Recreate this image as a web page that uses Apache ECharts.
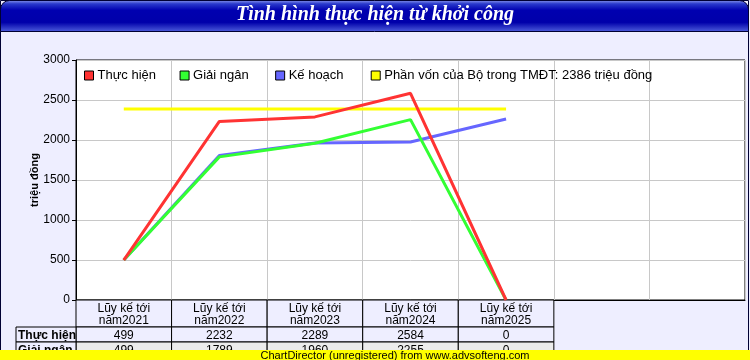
<!DOCTYPE html>
<html><head><meta charset="utf-8">
<script src="https://cdn.jsdelivr.net/npm/echarts@6/dist/echarts.min.js"></script>
<style>html,body{margin:0;padding:0;background:#eeeeff}#c{width:750px;height:360px}</style>
</head><body><div id="c"></div>
<script>
const titleText = 'Tình hình thực hiện từ khởi công';
const categories = ['Lũy kế tới\nnăm2021','Lũy kế tới\nnăm2022','Lũy kế tới\nnăm2023','Lũy kế tới\nnăm2024','Lũy kế tới\nnăm2025'];
const emptySlots = ['', ''];
const thucHien = [499, 2232, 2289, 2584, 0];
const giaiNgan = [499, 1789, 1960, 2255, 0];
const keHoach = [499, 1805, 1962, 1975, 2262];
const phanVon = [2386, 2386, 2386, 2386, 2386];
const seriesNames = ['Thực hiện', 'Giải ngân', 'Kế hoạch', 'Phần vốn của Bộ trong TMĐT: 2386 triệu đồng'];
const seriesColors = ['#ff3333', '#33ff33', '#6666ff', '#ffff00'];
const tableRows = [['Thực hiện', thucHien], ['Giải ngân', giaiNgan]];
const yTicks = {min: 0, max: 3000, interval: 500};
const yName = 'triệu đồng';
const footer = 'ChartDirector (unregistered) from www.advsofteng.com';

const FONT = 'Arial, "Liberation Sans", sans-serif';
const chart = echarts.init(document.getElementById('c'), null, {renderer: 'canvas'});
const gl = 76, gt = 60, gw = 669, gh = 240;
const catW = gw / (categories.length + emptySlots.length);

const legends = [0, 1, 2, 3].map((i) => ({
  show: true, data: [seriesNames[i]], left: gl + 8 + catW * i, top: 69, padding: 0,
  icon: 'rect', itemWidth: 9, itemHeight: 9, itemGap: 4,
  itemStyle: {borderColor: '#000', borderWidth: 1},
  textStyle: {fontSize: 13, color: '#000', fontFamily: FONT, padding: [0, 0, 0, -1]},
  selectedMode: false
}));

const option = {
  backgroundColor: '#eeeeff',
  animation: false,
  grid: {left: gl, top: gt, width: gw, height: gh, show: true, backgroundColor: '#ffffff', borderColor: '#000', borderWidth: 1},
  legend: legends,
  xAxis: {
    type: 'category', data: categories.concat(emptySlots), boundaryGap: true,
    axisLine: {show: true, lineStyle: {color: '#000'}},
    axisTick: {show: false}, axisLabel: {show: false},
    splitLine: {show: true, lineStyle: {color: '#c8c8c8', width: 1}}
  },
  yAxis: {
    type: 'value', min: yTicks.min, max: yTicks.max, interval: yTicks.interval,
    name: yName, nameLocation: 'middle', nameRotate: 90, nameGap: 36, nameMoveOverlap: false,
    nameTextStyle: {fontSize: 11, fontWeight: 'bold', color: '#000', fontFamily: FONT},
    axisLine: {show: true, lineStyle: {color: '#000'}},
    axisTick: {show: true, length: 4, lineStyle: {color: '#000'}},
    axisLabel: {fontSize: 12, color: '#000', margin: 6, fontFamily: FONT, formatter: (v) => String(v)},
    splitLine: {show: true, lineStyle: {color: '#c8c8c8', width: 1}}
  },
  series: [
    {name: seriesNames[3], type: 'line', data: phanVon, symbol: 'none', lineStyle: {width: 3, color: seriesColors[3]}, itemStyle: {color: seriesColors[3]}, z: 2},
    {name: seriesNames[2], type: 'line', data: keHoach, symbol: 'none', lineStyle: {width: 3, color: seriesColors[2]}, itemStyle: {color: seriesColors[2]}, z: 3},
    {name: seriesNames[1], type: 'line', data: giaiNgan, symbol: 'none', lineStyle: {width: 3, color: seriesColors[1]}, itemStyle: {color: seriesColors[1]}, z: 4},
    {name: seriesNames[0], type: 'line', data: thucHien, symbol: 'none', lineStyle: {width: 3, color: seriesColors[0]}, itemStyle: {color: seriesColors[0]}, z: 5}
  ]
};
chart.setOption(option);

const g = [];
g.push({type: 'rect', shape: {x: 0.5, y: 0.5, width: 748, height: 359}, style: {fill: 'none', stroke: '#000033', lineWidth: 1}, z: 1, silent: true});
g.push({type: 'rect', shape: {x: 0.5, y: 0.5, width: 748, height: 31, r: [9, 9, 0, 0]},
  style: {fill: new echarts.graphic.LinearGradient(0, 0, 0, 1, [
    {offset: 0, color: '#8f9cee'}, {offset: 0.12, color: '#2a3acc'}, {offset: 0.32, color: '#0000b0'},
    {offset: 0.7, color: '#0000aa'}, {offset: 1, color: '#5060dd'}]), stroke: '#000033', lineWidth: 1}, z: 10, silent: true});
g.push({type: 'text', left: 'center', top: 5, style: {text: titleText, fill: '#fff', font: 'italic bold 20px "Liberation Serif", "Times New Roman", serif'}, z: 11, silent: true});

const yBase = gt + gh;
const hdrH = 27, rowH = 15;
const left0 = chart.convertToPixel({xAxisIndex: 0}, 0) - catW / 2;
categories.forEach((c, i) => {
  const cx = chart.convertToPixel({xAxisIndex: 0}, i);
  const x0 = cx - catW / 2;
  g.push({type: 'rect', shape: {x: x0, y: yBase, width: catW, height: hdrH}, style: {fill: '#eeeeff', stroke: '#000', lineWidth: 1}, z: 5, silent: true});
  g.push({type: 'text', x: cx, y: yBase + 15, style: {text: c, fill: '#000', font: '12px ' + FONT, textAlign: 'center', textVerticalAlign: 'middle', lineHeight: 12}, z: 6, silent: true});
  tableRows.forEach((r, j) => {
    const y0 = yBase + hdrH + rowH * j;
    g.push({type: 'rect', shape: {x: x0, y: y0, width: catW, height: rowH}, style: {fill: j === 0 ? '#eeeeff' : '#ececec', stroke: '#000', lineWidth: 1}, z: 5, silent: true});
    g.push({type: 'text', x: cx, y: y0 + rowH / 2 + 1, style: {text: String(r[1][i]), fill: '#000', font: '12px ' + FONT, textAlign: 'center', textVerticalAlign: 'middle'}, z: 6, silent: true});
  });
});
tableRows.forEach((r, j) => {
  const y0 = yBase + hdrH + rowH * j;
  g.push({type: 'rect', shape: {x: 16, y: y0, width: left0 - 16, height: rowH}, style: {fill: '#eeeeff', stroke: '#000', lineWidth: 1}, z: 5, silent: true});
  g.push({type: 'text', x: 18, y: y0 + rowH / 2 + 1, style: {text: r[0], fill: '#000', font: 'bold 12px ' + FONT, textAlign: 'left', textVerticalAlign: 'middle'}, z: 6, silent: true});
});
g.push({type: 'rect', shape: {x: 0, y: 350, width: 750, height: 10}, style: {fill: '#ffff00'}, z: 20, silent: true});
g.push({type: 'text', x: 395, y: 356, style: {text: footer, fill: '#000', font: '11px ' + FONT, textAlign: 'center', textVerticalAlign: 'middle'}, z: 21, silent: true});
chart.setOption({graphic: g});
</script></body></html>
